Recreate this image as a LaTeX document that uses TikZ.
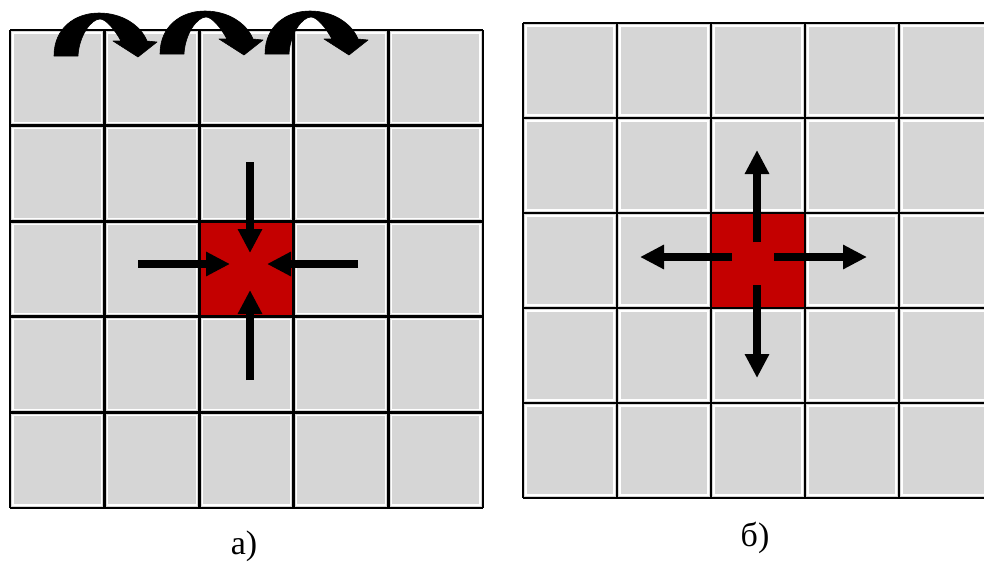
\documentclass[tikz,border=0pt]{standalone}
\usepackage{fontspec}
\setmainfont{Liberation Serif}
\usetikzlibrary{arrows.meta}
\definecolor{cellgray}{HTML}{D6D6D6}
\definecolor{hotred}{HTML}{C40000}
\begin{document}
\begin{tikzpicture}[x=1pt,y=-1pt,
  gridline/.style={line width=2.8pt, black},
  cellrim/.style={draw=white, line width=1.2pt},
  flowarrow/.style={line width=8pt, -{Triangle[width=23pt,length=24pt]}},
  hopfill/.style={fill=black, draw=black, line width=0.6pt, line join=round},
  caption/.style={font=\fontsize{34}{36}\selectfont, inner sep=0pt}]
\useasboundingbox (0,0) rectangle (984,563);
\fill[white] (0,0) rectangle (984,563);
\begin{scope}
\clip (0,0) rectangle (984,563);
% ---------- left grid (a) ----------
\foreach \i in {0,...,4} \foreach \j in {0,...,4} {
  \fill[cellgray] ({10+94.6*\i},{30+95.6*\j}) rectangle ++(94.6,95.6);
  \draw[cellrim] ({10+94.6*\i+3},{30+95.6*\j+3}) rectangle ++(88.6,89.6);
}
\fill[hotred] (199.2,221.2) rectangle (293.8,316.8);
\foreach \i in {0,...,5} \draw[gridline] ({10+94.6*\i},30) -- ({10+94.6*\i},508);
\foreach \j in {0,...,5} \draw[gridline] (10,{30+95.6*\j}) -- (483,{30+95.6*\j});
% inward arrows
\draw[flowarrow] (250,162) -- (250,253);
\draw[flowarrow] (138,264) -- (230,264);
\draw[flowarrow] (358,264) -- (267,264);
\draw[flowarrow] (250,380) -- (250,290);
% hopping arrows
\foreach \dx/\dy in {0/0, 106/-2, 211/-2} {
  \begin{scope}[shift={(\dx,\dy)}]
  \path[hopfill] (54,56) .. controls (54,28) and (75,13) .. (99,13)
     .. controls (123,13) and (141,26) .. (147,41)
     -- (157,42) -- (138,57) -- (113,41) -- (121,41)
     .. controls (115,30) and (106,19) .. (100,19)
     .. controls (91,19) and (79,36) .. (78,56) -- cycle;
  \end{scope}
}
% ---------- right grid (b) ----------
\foreach \i in {0,...,4} \foreach \j in {0,...,4} {
  \fill[cellgray] ({523+94*\i},{23+95*\j}) rectangle ++(94,95);
  \draw[cellrim] ({523+94*\i+3},{23+95*\j+3}) rectangle ++(88,89);
}
\fill[hotred] (711,213) rectangle (805,308);
\foreach \i in {0,...,5} \draw[gridline] ({523+94*\i},23) -- ({523+94*\i},498);
\foreach \j in {0,...,5} \draw[gridline] (523,{23+95*\j}) -- (993,{23+95*\j});
% outward arrows
\draw[flowarrow] (757,242) -- (757,150);
\draw[flowarrow] (732,257) -- (640,257);
\draw[flowarrow] (774,257) -- (867,257);
\draw[flowarrow] (757,285) -- (757,378);
\end{scope}
% captions
\node[caption] (capa) at (244,546) {а)};
\node[caption] (capb) at (755,538) {б)};
\end{tikzpicture}
\end{document}
